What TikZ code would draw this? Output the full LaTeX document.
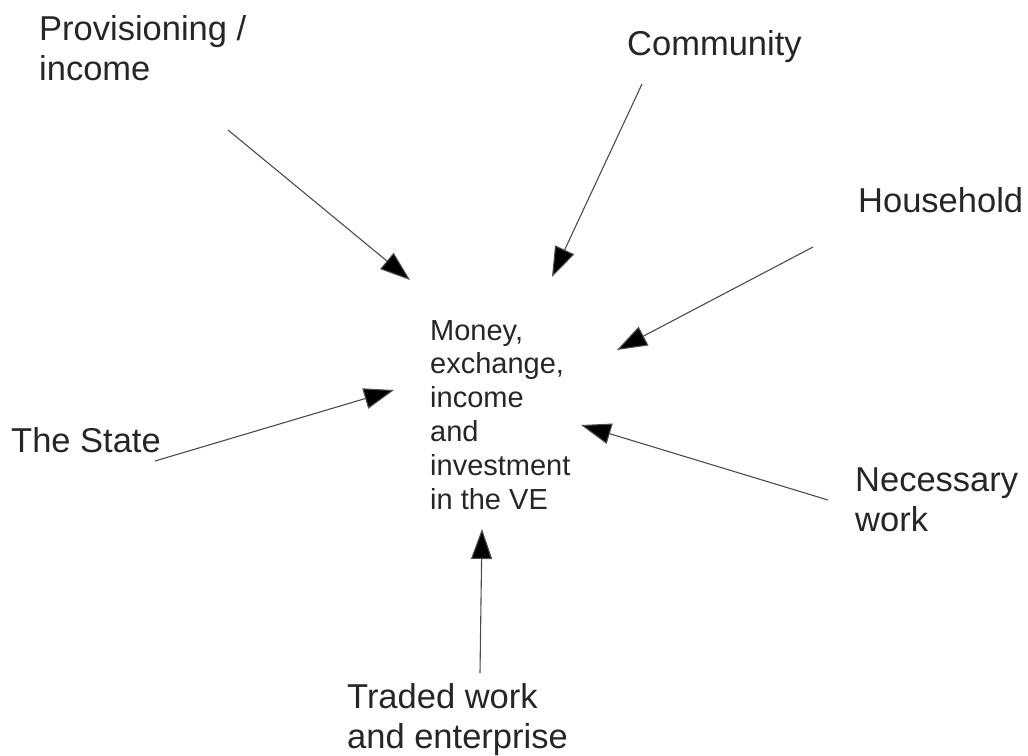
\documentclass[tikz,border=0pt]{standalone}
\usepackage{fontspec}
\setmainfont{Liberation Sans}
\usetikzlibrary{arrows.meta}
\begin{document}
\begin{tikzpicture}[x=1pt,y=-1pt,
  lbl/.style={inner sep=0pt,anchor=base west,align=left,text=black!85,
    font=\fontsize{34.5}{40}\selectfont},
  midlbl/.style={inner sep=0pt,anchor=base west,align=left,text=black!85,
    font=\fontsize{29}{33.8}\selectfont},
  flow/.style={draw=black!70,line width=1.1pt,
    -{Triangle[length=30pt,width=21pt,fill=black]}}]
\useasboundingbox (0,0) rectangle (1028,755);
\node[midlbl] (center) at (430,509) {Money,\\exchange,\\income\\and\\investment\\in the VE};
\node[lbl] (prov) at (39,80) {Provisioning /\\income};
\node[lbl] (comm) at (627,55) {Community};
\node[lbl] (house) at (858,212) {Household};
\node[lbl] (state) at (11,452) {The State};
\node[lbl] (nec) at (855,531) {Necessary\\work};
\node[lbl] (traded) at (347,748) {Traded work\\and enterprise};
\coordinate (prov-s) at (228,130);
\coordinate (prov-e) at (410,280);
\coordinate (comm-s) at (642,84);
\coordinate (comm-e) at (552,277);
\coordinate (house-s) at (813,247);
\coordinate (house-e) at (617,350);
\coordinate (state-s) at (155,461);
\coordinate (state-e) at (394,390);
\coordinate (nec-s) at (828,500);
\coordinate (nec-e) at (581,425);
\coordinate (traded-s) at (480,673);
\coordinate (traded-e) at (482,529);
\draw[flow] (prov-s) -- (prov-e);
\draw[flow] (comm-s) -- (comm-e);
\draw[flow] (house-s) -- (house-e);
\draw[flow] (state-s) -- (state-e);
\draw[flow] (nec-s) -- (nec-e);
\draw[flow] (traded-s) -- (traded-e);
\end{tikzpicture}
\end{document}
